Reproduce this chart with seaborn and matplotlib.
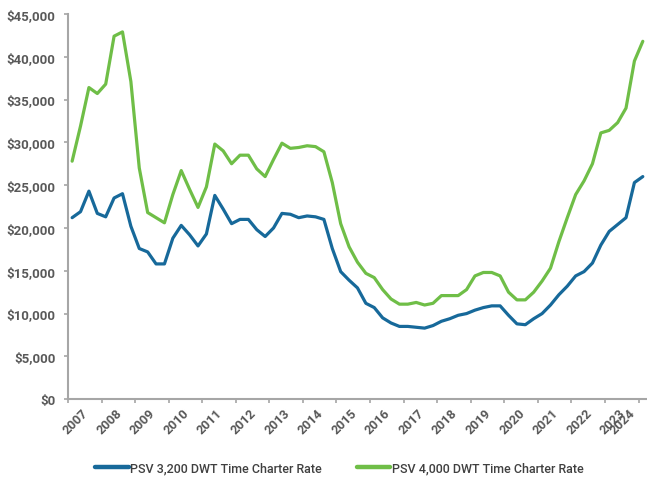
import matplotlib
matplotlib.use("Agg")
import matplotlib.pyplot as plt
import seaborn as sns
import pandas as pd
import numpy as np
from matplotlib.ticker import FuncFormatter, FixedLocator

sns.set_theme(style="white")
plt.rcParams['font.family'] = ['Roboto', 'DejaVu Sans']

# Quarterly rates, 2007 Q1 .. 2024 Q1 (USD/day)
quarters = [f"{y}Q{q}" for y in range(2007, 2025) for q in range(1, 5)][:69]

psv_3200 = [
    21200, 21900, 24300, 21700, 21300, 23500, 24000, 20200,   # 2007-2008
    17600, 17200, 15800, 15800, 18800, 20300, 19200, 17900,   # 2009-2010
    19300, 23800, 22200, 20500, 21000, 21000, 19800, 19000,   # 2011-2012
    20000, 21700, 21600, 21200, 21400, 21300, 21000, 17600,   # 2013-2014
    14900, 13900, 13000, 11200, 10700, 9500, 8900, 8500,      # 2015-2016
    8500, 8400, 8300, 8600, 9100, 9400, 9800, 10000,          # 2017-2018
    10400, 10700, 10900, 10900, 9800, 8800, 8700, 9400,       # 2019-2020
    10000, 11000, 12200, 13200, 14400, 14900, 15900, 18000,   # 2021-2022
    19600, 20400, 21200, 25300, 26000,                        # 2023-2024
]

psv_4000 = [
    27800, 31900, 36400, 35700, 36800, 42400, 42900, 37100,   # 2007-2008
    27000, 21800, 21200, 20600, 23900, 26700, 24500, 22400,   # 2009-2010
    24800, 29800, 29000, 27500, 28500, 28500, 26900, 26000,   # 2011-2012
    28000, 29900, 29300, 29400, 29600, 29500, 28900, 25300,   # 2013-2014
    20500, 17800, 16000, 14700, 14200, 12800, 11700, 11100,   # 2015-2016
    11100, 11300, 11000, 11200, 12100, 12100, 12100, 12800,   # 2017-2018
    14400, 14800, 14800, 14400, 12500, 11600, 11600, 12500,   # 2019-2020
    13800, 15300, 18400, 21200, 23900, 25500, 27500, 31100,   # 2021-2022
    31400, 32300, 34000, 39500, 41800,                        # 2023-2024
]

year_labels = [str(y) for y in range(2007, 2025)]

BLUE = '#17699A'
GREEN = '#6FBE47'
GRAY = '#A6A6A6'
TEXT = '#595959'

label_3200 = "PSV 3,200 DWT Time Charter Rate"
label_4000 = "PSV 4,000 DWT Time Charter Rate"

# quarter midpoints as decimal years
tx = [int(q[:4]) + (int(q[-1]) - 0.5) / 4 for q in quarters]
df = pd.DataFrame({
    't': tx * 2,
    'rate': psv_3200 + psv_4000,
    'series': [label_3200] * len(tx) + [label_4000] * len(tx),
})

fig = plt.figure(figsize=(6.47, 4.81), dpi=100)
ax = fig.add_axes([0.105, 0.168, 0.895, 0.801])

sns.lineplot(data=df, x='t', y='rate', hue='series',
             palette=[BLUE, GREEN], linewidth=2.3, ax=ax, legend=False)

ax.set_xlim(2007, 2024.25)
ax.set_ylim(0, 45000)
ax.set_yticks(np.arange(0, 45001, 5000))
ax.yaxis.set_major_formatter(FuncFormatter(lambda v, p: f"${v:,.0f}"))

# year boundaries as ticks, labels sit between them
ax.xaxis.set_major_locator(FixedLocator(list(range(2007, 2025))))
ax.xaxis.set_major_formatter(FuncFormatter(lambda v, p: ""))
label_pos = [y + 0.68 for y in range(2007, 2024)] + [2023.98]
ax.xaxis.set_minor_locator(FixedLocator(label_pos))
ax.set_xticklabels(year_labels, minor=True, rotation=45, ha='right',
                   fontsize=9.3, fontweight='bold', color=TEXT)
ax.tick_params(axis='x', which='minor', length=0, pad=5)
ax.tick_params(axis='x', which='major', length=3, width=1.2, color=GRAY,
               direction='out', bottom=True)
ax.tick_params(axis='y', length=3, width=1.2, color=GRAY, direction='out',
               left=True, labelsize=9.5, labelcolor=TEXT, pad=6)
for t in ax.get_yticklabels():
    t.set_fontweight('bold')

ax.set_xlabel("")
ax.set_ylabel("")
sns.despine(ax=ax)
for s in ['left', 'bottom']:
    ax.spines[s].set_color(GRAY)
    ax.spines[s].set_linewidth(1.5)

handles = [plt.Line2D([], [], color=BLUE, lw=3.2),
           plt.Line2D([], [], color=GREEN, lw=3.2)]
fig.legend(handles, [label_3200, label_4000], loc='center',
           bbox_to_anchor=(0.525, 0.026), ncol=2, frameon=False,
           handlelength=2.65, handletextpad=0.15, columnspacing=2.8,
           prop={'size': 9, 'weight': 'medium'}, labelcolor='#404040')

fig.savefig("out.png", dpi=100)
